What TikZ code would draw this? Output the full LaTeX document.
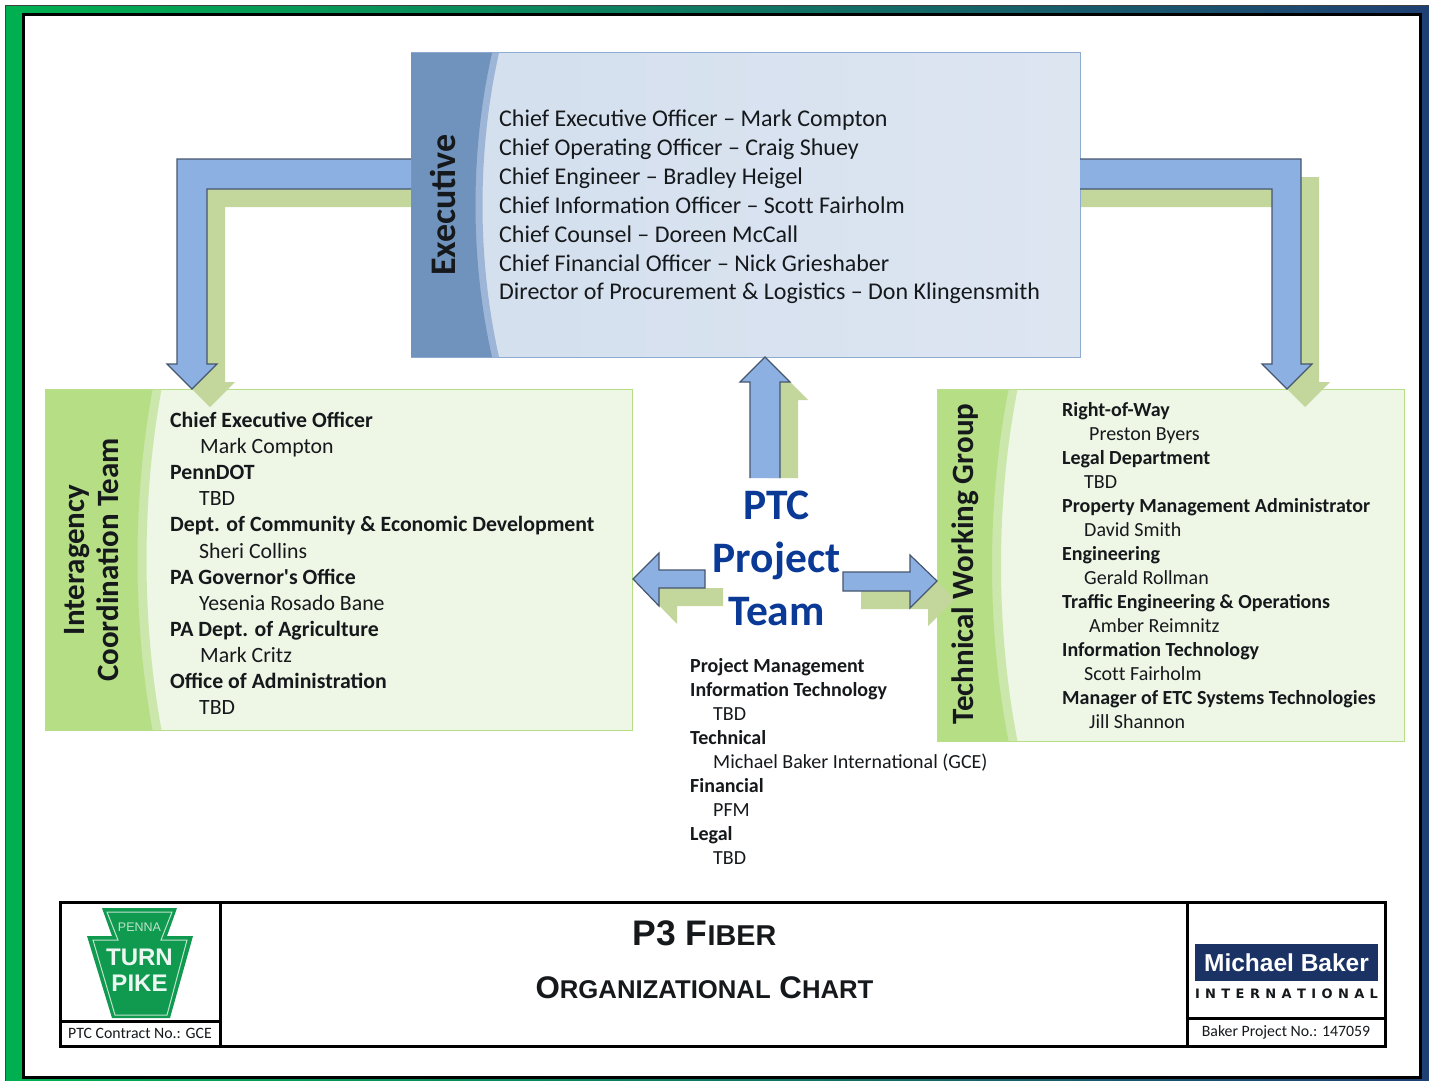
\documentclass[tikz,border=0pt]{standalone}
\usepackage{fontspec}
\setmainfont{Carlito}[Ligatures=ResetAll]
\newfontfamily\plainquote{Carlito}
\newfontfamily\arialfont{Liberation Sans}
\newfontfamily\wideblack{DejaVu Sans}
\usetikzlibrary{calc, positioning}
\definecolor{frameGreen}{HTML}{00B050}
\definecolor{frameNavy}{HTML}{1F3F73}
\definecolor{bandBlue}{HTML}{7093BE}
\definecolor{bandBlueLight}{HTML}{9DB6D8}
\definecolor{execLeft}{HTML}{D3DFEE}
\definecolor{execRight}{HTML}{DDE5F1}
\definecolor{edgeBlue}{HTML}{8EABD2}
\definecolor{bandGreen}{HTML}{B6DE84}
\definecolor{bandGreenLight}{HTML}{CBE7AC}
\definecolor{paleGreen}{HTML}{EEF6E5}
\definecolor{arrowBlue}{HTML}{8DB0E3}
\definecolor{arrowEdge}{HTML}{46566E}
\definecolor{arrowShade}{HTML}{C3D69B}
\definecolor{teamBlue}{HTML}{0A3A96}
\definecolor{keyGreen}{HTML}{109A50}
\definecolor{keyLight}{HTML}{BFE3CB}
\definecolor{bakerNavy}{HTML}{1A3264}
\definecolor{inkText}{HTML}{16191C}
\tikzset{
  panel/.style={rectangle, anchor=north west, inner sep=0pt, outer sep=0pt, line width=1pt},
  sidelabel/.style={rotate=90, font=\bfseries, align=center, text=inkText, inner sep=0pt},
  listbox/.style={anchor=north west, align=left, inner sep=0pt, text=inkText},
  arrowface/.style={fill=arrowBlue, draw=arrowEdge, line width=1.2pt, line join=miter},
  arrowshade/.style={fill=arrowShade, transform canvas={shift={(18,18)}}},
  cellbox/.style={rectangle, anchor=north west, draw=black, line width=3pt, inner sep=0pt, outer sep=0pt},
  notetext/.style={font=\fontsize{15.8}{18}\selectfont, text=inkText, inner sep=0pt},
  titletext/.style={font=\arialfont\bfseries, text=inkText, inner sep=0pt},
}
% curved band at the left of a panel
\newcommand{\sideband}[4]{
  \fill[#4] (#1.north west) -- ($(#1.north west)+(#2,0)$)
    .. controls ($(#1.north west)!.32!(#1.south west)+(#2-#3,0)$) and ($(#1.north west)!.68!(#1.south west)+(#2-#3,0)$)
    .. ($(#1.south west)+(#2,0)$) -- (#1.south west) -- cycle;
}
% arrow paths, from one box to the other
\newcommand{\bentleft}[1]{($(execW)+(#1,-46)$) -| ($(ictTip)+(-15,-25)$) -- ++(-10,0) -- (ictTip) -- ++(25,-25) -- ++(-10,0) |- ($(execW)+(#1,-16)$)}
\newcommand{\bentright}[1]{($(execE)+(#1,-46)$) -| ($(twgTip)+(14,-25)$) -- ++(11,0) -- (twgTip) -- ++(-25,-25) -- ++(10,0) |- ($(execE)+(#1,-16)$)}
\newcommand{\uppath}[1]{($(upTip)+(-15,25+#1)$) -- ++(0,-#1) -- ++(-10,0) -- (upTip) -- ++(25,25) -- ++(-10,0) -- ++(0,#1)}
\newcommand{\leftpath}{($(leftTip)+(72,-9)$) -- ++(-46,0) -- ++(0,-17) -- (leftTip) -- ++(26,27) -- ++(0,-18) -- ++(46,0)}
\newcommand{\rightpath}{($(rightTip)+(-94,-9)$) -- ++(67,0) -- ++(0,-17) -- (rightTip) -- ++(-27,27) -- ++(0,-17) -- ++(-67,0) -- cycle}

\begin{document}
\begin{tikzpicture}[x=1pt, y=-1pt]
  \useasboundingbox (0,0) rectangle (1429,1081);
  % page frame
  \fill[white] (0,0) rectangle (1429,1081);
  \draw[left color=frameGreen, right color=frameNavy, draw=black!75, line width=1.5pt] (5.5,5.5) rectangle (1435,1090);
  \draw[draw=black, fill=white, line width=3pt] (23.5,14.5) rectangle (1420.5,1077.5);

  % the two lower panels
  \node[panel, draw=bandGreen, fill=paleGreen, minimum width=586.5pt, minimum height=340.5pt] (ict) at (45.5,389.5) {};
  \node[panel, draw=bandGreen, fill=paleGreen, minimum width=466.5pt, minimum height=351.5pt] (twg) at (937.5,389.5) {};
  \sideband{ict}{116}{20}{bandGreenLight}
  \sideband{ict}{107}{20}{bandGreen}
  \sideband{twg}{80}{22}{bandGreenLight}
  \sideband{twg}{71}{22}{bandGreen}

  \coordinate (execW) at (411,205);
  \coordinate (execE) at (1080,205);
  \coordinate (ictTip) at (192,389);
  \coordinate (twgTip) at (1287,389);
  \coordinate (upTip) at (765,357);
  \coordinate (leftTip) at (633,579);
  \coordinate (rightTip) at (937,581);

  % shadows of the arrows
  \fill[arrowshade] \bentleft{0} -- cycle;
  \fill[arrowshade] \bentright{-40} -- cycle;
  \fill[arrowshade] \uppath{78} -- cycle;
  \fill[arrowshade] \leftpath -- cycle;
  \fill[arrowshade] \rightpath;

  % executive panel
  \node[panel, anchor=west, draw=edgeBlue, left color=execLeft, right color=execRight, minimum width=669pt, minimum height=304pt] (exec) at (execW) {};
  \sideband{exec}{88}{22}{bandBlueLight}
  \sideband{exec}{81}{22}{bandBlue}

  % arrows
  \path[arrowface, draw=none] \bentleft{0} -- cycle;
  \draw[arrowface, fill=none] \bentleft{0};
  \path[arrowface, draw=none] \bentright{0} -- cycle;
  \draw[arrowface, fill=none] \bentright{0};
  \path[arrowface, draw=none] \uppath{96} -- cycle;
  \draw[arrowface, fill=none] \uppath{96};
  \draw[arrowface] \leftpath -- cycle;
  \draw[arrowface] \rightpath;

  % panel texts
  \node[sidelabel, font=\fontsize{36}{38}\selectfont\bfseries] (execName) at (443,205) {Executive};
  \node[sidelabel, font=\fontsize{31}{34}\selectfont\bfseries] (ictName) at (91.5,560) {Interagency\\Coordination Team};
  \node[sidelabel, font=\fontsize{31}{34}\selectfont\bfseries] (twgName) at (965,564) {Technical Working Group};

  \node[listbox, font=\fontsize{24}{28.85}\selectfont] (execList) at (499,110) {
    Chief Executive Officer – Mark Compton\\
    Chief Operating Officer – Craig Shuey\\
    Chief Engineer – Bradley Heigel\\
    Chief Information Officer – Scot\kern0pt t Fairholm\\
    Chief Counsel – Doreen McCall\\
    Chief Financial Officer – Nick Grieshaber\\
    Director of Procurement \& Logistics – Don Klingensmith};

  \node[listbox, font=\fontsize{21.8}{26.1}\selectfont] (ictList) at (170,412) {
    \textbf{Chief Executive Officer}\\
    \hspace*{30pt}Mark Compton\\
    \textbf{PennDOT}\\
    \hspace*{29pt}TBD\\
    \textbf{Dept. of Community \& Economic Development}\\
    \hspace*{29pt}Sheri Collins\\
    \textbf{PA Governor{\plainquote\bfseries'}s Office}\\
    \hspace*{29pt}Yesenia Rosado Bane\\
    \textbf{PA Dept. of Agriculture}\\
    \hspace*{30pt}Mark Critz\\
    \textbf{Office of Administration}\\
    \hspace*{29pt}TBD};

  \node[listbox, font=\fontsize{20}{24}\selectfont] (twgList) at (1062,402) {
    \textbf{Right-of-Way}\\
    \hspace*{27pt}Preston Byers\\
    \textbf{Legal Department}\\
    \hspace*{22pt}TBD\\
    \textbf{Property Management Administrator}\\
    \hspace*{22pt}David Smith\\
    \textbf{Engineering}\\
    \hspace*{22pt}Gerald Rollman\\
    \textbf{Traffic Engineering \& Operations}\\
    \hspace*{27pt}Amber Reimnitz\\
    \textbf{Information Technology}\\
    \hspace*{22pt}Scot\kern0pt t Fairholm\\
    \textbf{Manager of ETC Systems Technologies}\\
    \hspace*{27pt}Jill Shannon};

  % project team, centre
  \node[inner sep=0pt, align=center, text=teamBlue, font=\fontsize{43.5}{53}\selectfont\bfseries] (ptcTeam) at (776.5,558) {PTC\\Project\\Team};
  \node[listbox, font=\fontsize{20}{24}\selectfont] (teamList) at (690,658) {
    \textbf{Project Management}\\
    \textbf{Information Technology}\\
    \hspace*{23pt}TBD\\
    \textbf{Technical}\\
    \hspace*{23pt}Michael Baker International (GCE)\\
    \textbf{Financial}\\
    \hspace*{23pt}PFM\\
    \textbf{Legal}\\
    \hspace*{23pt}TBD};

  % title block
  \node[cellbox, minimum width=160pt, minimum height=119pt] (logoCell) at (60,902) {};
  \node[cellbox, minimum width=160pt, minimum height=25pt, below=0pt of logoCell.south west, anchor=north west] (contractCell) {};
  \node[cellbox, minimum width=967pt, minimum height=144pt] (titleCell) at (220,902) {};
  \node[cellbox, minimum width=198pt, minimum height=116pt] (bakerCell) at (1187,902) {};
  \node[cellbox, minimum width=198pt, minimum height=28pt, below=0pt of bakerCell.south west, anchor=north west] (numberCell) {};

  \node[notetext] (contractNo) at (contractCell) {PTC Contract No.: GCE};
  \node[notetext] (bakerNo) at (numberCell) {Baker Project No.: 147059};

  \node[titletext, font=\fontsize{35.5}{36}\selectfont\arialfont\bfseries] (titleOne) at (704.5,933) {P3 F{\fontsize{28.7}{36}\selectfont IBER}};
  \node[titletext, font=\fontsize{31.3}{36}\selectfont\arialfont\bfseries] (titleTwo) at (704.5,987.5) {O{\fontsize{25.7}{36}\selectfont RGANIZATIONAL} C{\fontsize{25.7}{36}\selectfont HART}};

  % turnpike keystone
  \fill[keyGreen] (102,908) -- (177,908) -- (167,936) -- (193,936) -- (170,1018) -- (112,1018) -- (87,936) -- (112,936) -- cycle;
  \draw[keyLight, line width=1pt] (107,912) -- (172,912) -- (161,940) -- (187,940) -- (167,1015) -- (115,1015) -- (93,940) -- (118,940) -- cycle;
  \node[inner sep=0pt, text=keyLight, font=\arialfont\fontsize{12.5}{14}\selectfont] (pennaText) at (139.5,927) {PENNA};
  \node[inner sep=0pt, text=white!92!keyGreen, align=center, font=\arialfont\bfseries\fontsize{24}{26}\selectfont] (turnpikeText) at (139.5,970) {TURN\\PIKE};

  % baker logo
  \node[panel, fill=bakerNavy, minimum width=183pt, minimum height=37pt, text=white, font=\arialfont\bfseries\fontsize{24.5}{28}\selectfont] (bakerLogo) at (1195,944) {\makebox[183pt]{Michael Baker}};
  \node[inner sep=0pt, text=inkText, font=\wideblack\bfseries\fontsize{13}{14}\selectfont, below=8pt of bakerLogo] (bakerIntl) {\makebox[183pt][s]{I\hfil N\hfil T\hfil E\hfil R\hfil N\hfil A\hfil T\hfil I\hfil O\hfil N\hfil A\hfil L}};
\end{tikzpicture}
\end{document}
